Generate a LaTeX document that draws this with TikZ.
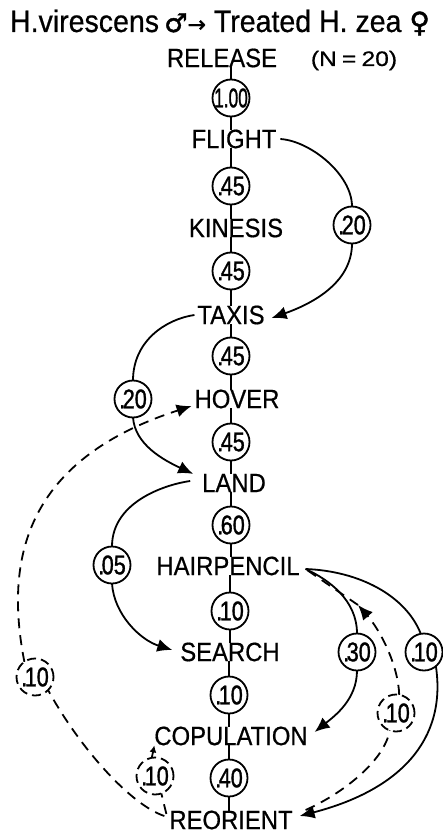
\documentclass[tikz,border=0pt]{standalone}
\usepackage{fontspec}
\setmainfont{Liberation Sans}
\newfontfamily\lblfont[FakeStretch=0.9,FakeBold=0.6]{Liberation Sans}
\newfontfamily\numfont[FakeStretch=0.8,FakeBold=1.2]{Liberation Sans}
\newfontfamily\titlefont[FakeStretch=0.92,FakeBold=0.6]{Liberation Sans}
\newfontfamily\symfont[FakeBold=1.5]{DejaVu Sans}
\usetikzlibrary{arrows.meta}
% probability value centred in its circle without widening it
\newcommand\pv[1]{\makebox[0pt]{#1}}
\newcommand\pd[1]{\pv{.\kern-2.5pt#1}}
\begin{document}
\begin{tikzpicture}[x=1pt,y=1pt,
  lbl/.style={inner sep=0pt, outer sep=0pt, font=\lblfont\fontsize{26.5}{28}\selectfont},
  prob/.style={circle, draw, line width=1.8pt, minimum size=37pt, inner sep=0pt,
    outer sep=0pt, font=\numfont\fontsize{27}{29}\selectfont},
  dprob/.style={prob, dash pattern=on 9pt off 5pt},
  tick/.style={line width=1.5pt},
  link/.style={line width=1.8pt},
  dlink/.style={link, dash pattern=on 10pt off 7pt},
  tip/.style={-{Latex[length=15pt,width=13pt]}},
  smalltip/.style={-{Latex[length=7pt,width=7pt]}},
]
\useasboundingbox (0,0) rectangle (443,-834);

% heading
\node[anchor=base, inner sep=0pt, font=\titlefont\fontsize{31}{33}\selectfont] (title) at (220,-32)
  {H.virescens\,{\symfont\fontsize{26}{28}\selectfont ♂}{\symfont\fontsize{22}{24}\selectfont →} Treated H. zea {\symfont\fontsize{28}{30}\selectfont ♀}};
\node[anchor=base, inner sep=0pt, font=\lblfont\fontsize{21}{23}\selectfont] (nsize) at (354,-66)
  {\scalebox{1.3}[1]{(N\hspace{4pt}=\hspace{4pt}20)}};

% behaviour sequence
\node[lbl] (release) at (222,-58) {RELEASE};
\node[prob] (c100) at (231,-98) {\pv{\scalebox{0.8}[1]{1.00}}};
\node[lbl] (flight) at (234,-139) {FLIGHT};
\node[prob] (c45a) at (231,-186) {\pd{45}};
\node[lbl] (kinesis) at (236,-228) {KINESIS};
\node[prob] (c45b) at (231,-271) {\pd{45}};
\node[lbl] (taxis) at (231,-315) {TAXIS};
\node[prob] (c45c) at (231,-356) {\pd{45}};
\node[lbl] (hover) at (237,-399) {HOVER};
\node[prob] (c45d) at (231,-442) {\pd{45}};
\node[lbl] (land) at (234,-483) {LAND};
\node[prob] (c60) at (231,-525) {\pd{60}};
\node[lbl] (hair) at (228,-566) {HAIRPENCIL};
\node[prob] (c10a) at (230,-611) {\pd{10}};
\node[lbl] (search) at (230,-652) {SEARCH};
\node[prob] (c10b) at (229,-695) {\pd{10}};
\node[lbl] (copul) at (231,-736) {COPULATION};
\node[prob] (c40) at (229,-778) {\pd{40}};
\node[lbl] (reor) at (231,-820) {REORIENT};

% side transitions
\node[prob] (c20r) at (352,-225) {\pd{20}};
\node[prob] (c20l) at (133,-399) {\pd{20}};
\node[prob] (c05) at (112,-565) {\pd{05}};
\node[prob] (c30) at (357,-652) {\pd{30}};
\node[prob] (c10r) at (424,-652) {\pd{10}};
\node[dprob] (d1) at (396,-713) {\pd{10}};
\node[dprob] (d2) at (155,-776) {\pd{10}};
\node[dprob] (d3) at (35,-677) {\pd{10}};

% short ticks along the main chain
\foreach \a/\c/\b in {release/c100/flight, flight/c45a/kinesis, kinesis/c45b/taxis,
    taxis/c45c/hover, hover/c45d/land, land/c60/hair, hair/c10a/search,
    search/c10b/copul, copul/c40/reor} {
  \draw[tick] (\c.north) -- (\c.north |- \a.south);
  \draw[tick] (\c.south) -- (\c.south |- \b.north);
}

% FLIGHT -> TAXIS
\draw[link] ([xshift=4pt]flight.east) .. controls +(30,-2) and +(0,32) .. (c20r.north);
\draw[link,tip] (c20r.south) .. controls +(0,-41) and +(37,13) .. ([xshift=7pt,yshift=-3pt]taxis.east);

% TAXIS -> LAND
\draw[link] ([xshift=-3pt]taxis.west) .. controls +(-28,-4) and +(0,40) .. (c20l.north);
\draw[link,tip] (c20l.south) .. controls +(2,-27) and +(-30,14) .. ([xshift=-9pt]land.north west);

% LAND -> SEARCH
\draw[link] ([xshift=-12pt,yshift=2pt]land.west) .. controls +(-22,-3) and +(0,46) .. (c05.north);
\draw[link,tip] (c05.south) .. controls +(2,-31) and +(-32,10) .. ([xshift=-8pt,yshift=2pt]search.west);

% HAIRPENCIL -> COPULATION and -> REORIENT
\coordinate (hp) at ([xshift=6pt,yshift=-3pt]hair.east);
\draw[link] (hp) .. controls +(24,-11) and +(0,33) .. (c30.north);
\draw[link,tip] (c30.south) .. controls +(0,-29) and +(20,16) .. ([xshift=7pt,yshift=4pt]copul.east);
\draw[link] (hp) .. controls +(54,-2) and +(-15,38) .. (c10r.100);
\draw[link,tip] (c10r.-50) .. controls +(11,-74) and +(100,26) .. ([xshift=7pt,yshift=4pt]reor.east);

% REORIENT -> HAIRPENCIL (dashed)
\coordinate (roE) at ([xshift=13pt,yshift=10pt]reor.east);
\coordinate (hpmid) at (358,-605);
\draw[dlink] (roE) .. controls +(38,17) and +(-5,-30) .. (d1.-110);
\draw[dlink,tip] (d1.80) .. controls +(-1,30) and +(22,-25) .. (hpmid);
\draw[dlink] (hpmid) -- (hp);

% REORIENT -> COPULATION (dashed)
\coordinate (roW) at ([xshift=-3pt,yshift=6pt]reor.west);
\draw[dlink] (roW) -- (d2.-70);
\draw[dlink,smalltip] (d2.100) -- (copul.south west);

% REORIENT -> HOVER (dashed)
\coordinate (roW2) at ([xshift=-5pt,yshift=4pt]reor.west);
\draw[dlink] (roW2) .. controls +(-33,11) and +(33,-60) .. (d3.-45);
\draw[dlink,tip] (d3.125) .. controls +(-20,102) and +(-167,-54) .. ([xshift=-3pt,yshift=-7pt]hover.west);
\end{tikzpicture}
\end{document}
